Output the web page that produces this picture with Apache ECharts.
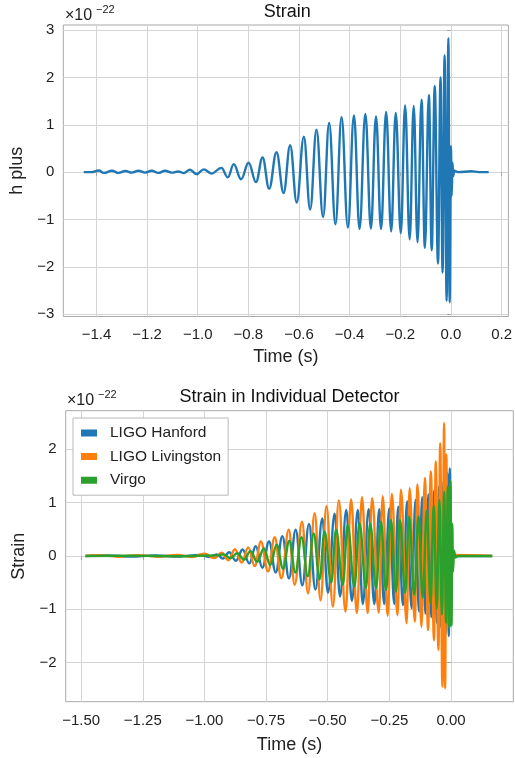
<!DOCTYPE html>
<html><head><meta charset="utf-8">
<script src="https://cdn.jsdelivr.net/npm/echarts@6/dist/echarts.min.js"></script>
<style>html,body{margin:0;padding:0;background:#fff}#c{width:515px;height:758px}</style>
</head><body><div id="c"></div>
<script>
// ---- Data (strain in units of 1e-22; extrema) ----
const hplusTime = [-1.450,-1.420,-1.391,-1.371,-1.339,-1.312,-1.286,-1.260,-1.234,-1.208,-1.182,-1.156,-1.129,-1.103,-1.077,-1.055,
 -1.031,-1.005,-0.976,-0.946,-0.907,-0.881,-0.858,-0.829,-0.799,-0.770,-0.744,-0.718,-0.689,-0.661,-0.635,-0.609,-0.581,-0.556,
 -0.531,-0.505,-0.481,-0.456,-0.432,-0.407,-0.383,-0.361,-0.338,-0.316,-0.296,-0.276,-0.256,-0.236,-0.218,-0.198,-0.181,-0.163,
 -0.147,-0.132,-0.116,-0.103,-0.087,-0.076,-0.064,-0.051,-0.041,-0.033,-0.025,-0.017,-0.010,-0.005,0.000,0.003,0.006,0.009,0.013,
 0.030,0.080,0.110,0.149];
const hplusValue = [0.00,0.00,0.035,-0.015,0.03,-0.015,0.025,-0.01,0.03,-0.01,0.03,-0.015,0.03,-0.01,0.015,-0.02,
 0.05,-0.04,0.06,-0.03,0.09,-0.11,0.17,-0.15,0.20,-0.21,0.31,-0.35,0.42,-0.44,0.57,-0.64,0.75,-0.79,
 0.90,-0.95,1.04,-1.10,1.16,-1.17,1.20,-1.20,1.23,-1.19,1.18,-1.20,1.27,-1.25,1.25,-1.29,1.41,-1.42,
 1.40,-1.48,1.53,-1.60,1.63,-1.65,1.82,-1.93,2.00,-2.12,2.47,-2.72,2.83,-2.75,0.55,-0.50,0.20,-0.08,0.03,
 0.00,0.02,0.00,0.00];

const hanfordTime = [-1.482,-1.40,-1.30,-1.20,-1.10,-1.02,-0.980,-0.950,-0.925,-0.900,-0.872,-0.845,-0.818,-0.792,-0.765,-0.738,-0.711,-0.684,
 -0.657,-0.630,-0.603,-0.576,-0.550,-0.522,-0.499,-0.472,-0.450,-0.425,-0.402,-0.378,-0.358,-0.334,-0.311,-0.291,-0.271,-0.250,
 -0.230,-0.214,-0.195,-0.178,-0.160,-0.144,-0.130,-0.117,-0.104,-0.092,-0.080,-0.069,-0.058,-0.048,-0.039,-0.030,-0.022,-0.015,
 -0.009,-0.005,-0.002,0.001,0.004,0.008,0.020,0.167];
const hanfordValue = [0.00,0.01,-0.01,0.01,-0.01,0.02,-0.02,0.03,-0.05,0.07,-0.09,0.12,-0.14,0.18,-0.22,0.27,-0.31,0.37,
 -0.42,0.49,-0.55,0.60,-0.63,0.70,-0.69,0.79,-0.76,0.86,-0.84,0.86,-0.90,0.875,-0.90,0.875,-0.90,0.89,
 -0.90,0.92,-0.92,1.02,-0.98,1.05,-1.04,1.10,-1.08,1.15,-1.15,1.22,-1.25,1.30,-1.35,1.40,-1.45,1.55,
 -1.50,1.64,-1.30,0.60,-0.30,0.05,0.00,0.00];

const livingstonTime = [-1.482,-1.43,-1.35,-1.27,-1.19,-1.11,-1.05,-1.00,-0.960,-0.930,-0.903,-0.876,-0.849,-0.822,-0.796,-0.771,-0.742,-0.715,
 -0.688,-0.658,-0.634,-0.604,-0.580,-0.553,-0.529,-0.505,-0.479,-0.455,-0.428,-0.405,-0.382,-0.361,-0.338,-0.320,-0.293,-0.277,
 -0.257,-0.240,-0.217,-0.203,-0.180,-0.168,-0.147,-0.136,-0.120,-0.106,-0.093,-0.082,-0.069,-0.062,-0.051,-0.044,-0.035,-0.028,
 -0.024,-0.019,-0.014,-0.010,-0.006,0.000,0.167];
const livingstonValue = [0.00,0.015,-0.015,0.015,-0.015,0.02,-0.02,0.04,-0.04,0.06,-0.08,0.125,-0.125,0.16,-0.19,0.27,-0.29,0.35,
 -0.42,0.49,-0.54,0.64,-0.70,0.80,-0.83,0.93,-0.95,1.04,-1.04,1.06,-1.07,1.10,-1.07,1.08,-1.06,1.12,
 -1.12,1.16,-1.11,1.24,-1.26,1.27,-1.23,1.34,-1.33,1.46,-1.39,1.58,-1.58,1.77,-1.76,2.11,-2.45,2.49,
 -2.48,1.90,-1.20,0.50,-0.20,0.02,0.00];

const virgoTime = [-1.482,-1.30,-1.10,-0.950,-0.923,-0.895,-0.867,-0.840,-0.813,-0.786,-0.759,-0.733,-0.707,-0.681,-0.656,-0.631,-0.606,-0.581,
 -0.557,-0.533,-0.513,-0.486,-0.466,-0.439,-0.419,-0.392,-0.371,-0.345,-0.328,-0.304,-0.284,-0.264,-0.244,-0.223,-0.207,-0.186,
 -0.170,-0.149,-0.132,-0.115,-0.098,-0.083,-0.070,-0.058,-0.047,-0.037,-0.028,-0.020,-0.013,-0.007,-0.002,0.002,0.005,0.008,
 0.012,0.018,0.030,0.167];
const virgoValue = [0.00,0.005,-0.005,0.01,0.03,-0.04,0.05,-0.07,0.09,-0.11,0.14,-0.17,0.21,-0.24,0.28,-0.31,0.35,-0.38,
 0.42,-0.44,0.46,-0.50,0.49,-0.54,0.58,-0.575,0.61,-0.60,0.61,-0.60,0.64,-0.64,0.675,-0.67,0.675,-0.69,
 0.74,-0.73,0.74,-0.78,0.85,-0.88,0.95,-0.98,1.05,-1.10,1.20,-1.25,1.30,-1.35,1.40,-1.30,0.60,-0.30,
 0.10,-0.03,0.00,0.00];

const topXTicks = [-1.4,-1.2,-1.0,-0.8,-0.6,-0.4,-0.2,0.0,0.2];
const topYTicks = [-3,-2,-1,0,1,2,3];
const botXTicks = [-1.5,-1.25,-1.0,-0.75,-0.5,-0.25,0.0];
const botYTicks = [-2,-1,0,1,2];
const detectorNames = ['LIGO Hanford','LIGO Livingston','Virgo'];

// ---- Chart ----
const zip = (t, v) => t.map((x, i) => [x, v[i]]);
const fmt = d => v => (v < 0 ? '\u2212' : '') + Math.abs(v).toFixed(d);
const FONT = '"Liberation Sans", Arial, sans-serif';
const frame = '#a8a8a8', gridC = '#d4d4d4', txt = '#222';

function xAxis(gi, min, max, ticks, dec, gap, margin) {
  return { type: 'value', gridIndex: gi, min, max,
    name: 'Time (s)', nameLocation: 'middle', nameGap: gap,
    nameTextStyle: { fontFamily: FONT, fontSize: 18, color: txt },
    axisLine: { show: false },
    axisTick: { show: true, length: 4, lineStyle: { color: frame }, customValues: ticks },
    axisLabel: { customValues: ticks, formatter: fmt(dec), fontFamily: FONT, fontSize: 15, color: txt, margin },
    splitLine: { show: true, lineStyle: { color: gridC, width: 1 } } };
}
function yAxis(gi, min, max, ticks, name, gap) {
  return { type: 'value', gridIndex: gi, min, max,
    name, nameLocation: 'middle', nameGap: gap,
    nameTextStyle: { fontFamily: FONT, fontSize: 18, color: txt },
    axisLine: { show: false },
    axisTick: { show: true, length: 4, lineStyle: { color: frame }, customValues: ticks },
    axisLabel: { customValues: ticks, formatter: fmt(0), fontFamily: FONT, fontSize: 15, color: txt, margin: 9 },
    splitLine: { show: true, lineStyle: { color: gridC, width: 1 } } };
}
const lineSeries = (name, xi, data, color) => ({
  name, type: 'line', xAxisIndex: xi, yAxisIndex: xi, data,
  showSymbol: false, smooth: 0.4, smoothMonotone: 'x',
  lineStyle: { color, width: 2.4 }, itemStyle: { color }, animation: false, silent: true });

const option = {
  animation: false,
  grid: [
    { left: 63.3, right: 4, top: 25, bottom: 758 - 316.5, show: true, borderColor: frame, borderWidth: 1 },
    { left: 65.7, right: 1.7, top: 410.7, bottom: 758 - 701.7, show: true, borderColor: frame, borderWidth: 1 }
  ],
  xAxis: [ xAxis(0, -1.531, 0.227, topXTicks, 1, 32, 11), xAxis(1, -1.5625, 0.2525, botXTicks, 2, 34, 12) ],
  yAxis: [ yAxis(0, -3.05, 3.11, topYTicks, 'h plus', 36), yAxis(1, -2.73, 2.72, botYTicks, 'Strain', 38) ],
  legend: {
    data: detectorNames, orient: 'vertical', left: 73, top: 418,
    padding: [7, 7, 7, 8], itemGap: 7.6, itemWidth: 24, itemHeight: 7,
    icon: 'path://M0,0H16V7H0Z M23.9,0H24V0.1H23.9Z',
    backgroundColor: '#fff', borderColor: '#b8b8b8', borderWidth: 1, borderRadius: 0,
    textStyle: { fontFamily: FONT, fontSize: 15.5, color: txt, padding: [0,0,0,0] },
    selectedMode: false
  },
  series: [
    lineSeries('h plus', 0, zip(hplusTime, hplusValue), '#1f77b4'),
    lineSeries(detectorNames[0], 1, zip(hanfordTime, hanfordValue), '#1f77b4'),
    lineSeries(detectorNames[1], 1, zip(livingstonTime, livingstonValue), '#ff7f0e'),
    lineSeries(detectorNames[2], 1, zip(virgoTime, virgoValue), '#2ca02c')
  ],
  graphic: [
    { type: 'text', x: 287.2, y: 12, style: { text: 'Strain', font: '18px ' + FONT, fill: '#111', align: 'center', verticalAlign: 'middle' } },
    { type: 'text', x: 289.5, y: 397, style: { text: 'Strain in Individual Detector', font: '18px ' + FONT, fill: '#111', align: 'center', verticalAlign: 'middle' } },
    { type: 'text', x: 65, y: 15.5, style: { text: '\u00d710', font: '16px ' + FONT, fill: txt, align: 'left', verticalAlign: 'middle' } },
    { type: 'text', x: 96, y: 10, style: { text: '\u221222', font: '11px ' + FONT, fill: txt, align: 'left', verticalAlign: 'middle' } },
    { type: 'text', x: 67, y: 400.5, style: { text: '\u00d710', font: '16px ' + FONT, fill: txt, align: 'left', verticalAlign: 'middle' } },
    { type: 'text', x: 98, y: 395, style: { text: '\u221222', font: '11px ' + FONT, fill: txt, align: 'left', verticalAlign: 'middle' } }
  ]
};
const chart = echarts.init(document.getElementById('c'), null, { renderer: 'canvas' });
chart.setOption(option);
</script></body></html>
